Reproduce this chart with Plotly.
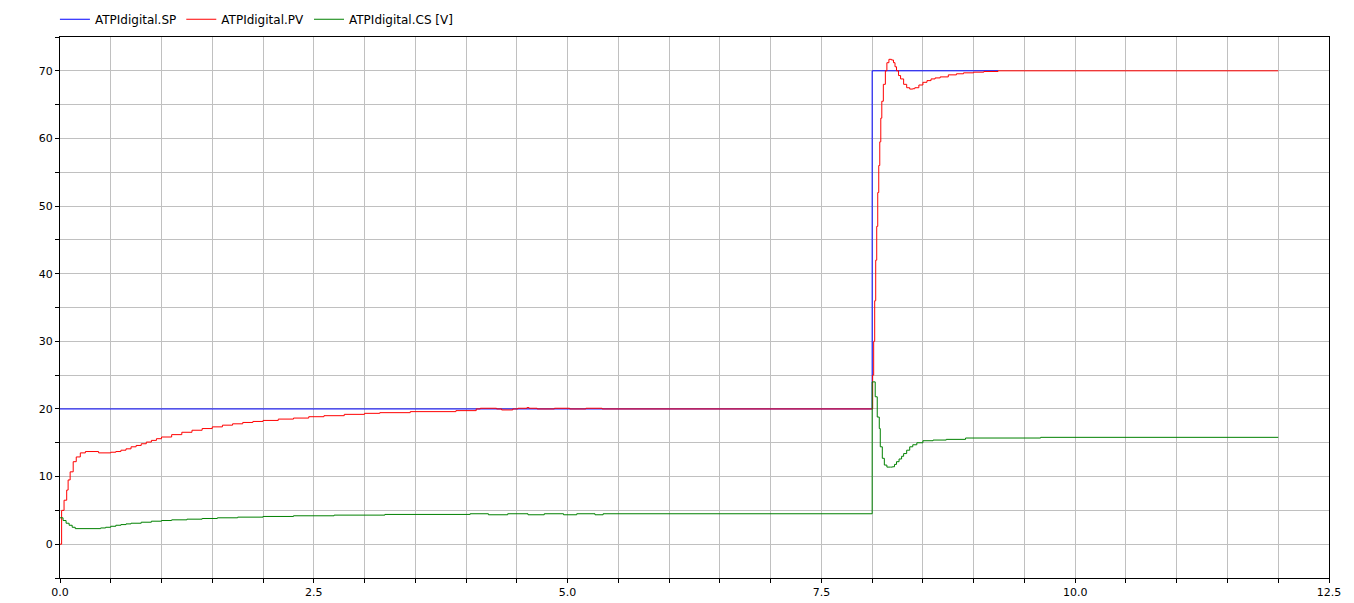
import plotly.graph_objects as go

# ---- data ----
sp_t = [0.0, 8.0, 8.0, 9.24]
sp_v = [20.0, 20.0, 70.0, 70.0]

pv_t = [0.0, 0.016, 0.04, 0.066, 0.08, 0.1, 0.13, 0.16, 0.2, 0.25, 0.38, 0.5, 0.55, 0.6,
        0.65, 0.7, 0.75, 0.8, 0.85, 0.9, 0.95, 1.0, 1.1, 1.2, 1.3, 1.4, 1.5, 1.6, 1.7, 1.8,
        1.9, 2.0, 2.15, 2.3, 2.45, 2.6, 2.8, 3.0, 3.15, 3.45, 3.9, 4.1, 4.14, 4.3, 4.35,
        4.46, 4.51, 4.6, 4.62, 4.7, 4.87, 5.02, 5.18, 5.34, 8.0, 8.005, 8.015, 8.025, 8.035,
        8.045, 8.055, 8.065, 8.075, 8.085, 8.095, 8.11, 8.13, 8.145, 8.165, 8.19, 8.21,
        8.225, 8.24, 8.26, 8.28, 8.31, 8.34, 8.37, 8.4, 8.42, 8.46, 8.5, 8.54, 8.58, 8.62,
        8.67, 8.75, 8.83, 8.9, 9.0, 9.1, 9.24, 12.0]
pv_v = [0.0, 5.0, 6.5, 8.0, 9.5, 10.7, 12.2, 12.9, 13.5, 13.7, 13.5, 13.6, 13.7, 13.9,
        14.1, 14.4, 14.6, 14.85, 15.1, 15.35, 15.6, 15.85, 16.2, 16.55, 16.85, 17.1, 17.35,
        17.6, 17.8, 18.0, 18.15, 18.3, 18.5, 18.65, 18.85, 19.0, 19.2, 19.35, 19.45, 19.6,
        19.75, 20.0, 20.1, 20.0, 19.85, 20.0, 20.1, 20.2, 20.1, 20.0, 20.1, 20.0, 20.1, 20.0,
        20.0, 25.0, 30.0, 36.0, 42.0, 47.0, 52.0, 56.0, 59.5, 63.0, 65.5, 68.0, 70.0, 71.2,
        71.7, 71.6, 71.2, 70.6, 70.0, 69.3, 68.8, 68.0, 67.5, 67.3, 67.35, 67.5, 67.9, 68.3,
        68.55, 68.8, 68.95, 69.1, 69.4, 69.56, 69.7, 69.8, 69.9, 70.0, 70.0]

cs_t = [0.0, 0.03, 0.06, 0.09, 0.12, 0.15, 0.4, 0.45, 0.5, 0.55, 0.6, 0.65, 0.7, 0.8, 0.9,
        1.0, 1.1, 1.25, 1.4, 1.55, 1.75, 2.0, 2.3, 2.7, 3.2, 4.04, 4.22, 4.41, 4.61, 4.77,
        4.96, 5.09, 5.27, 5.35, 8.0, 8.03, 8.05, 8.07, 8.08, 8.1, 8.12, 8.145, 8.18, 8.2,
        8.22, 8.24, 8.265, 8.29, 8.31, 8.34, 8.37, 8.4, 8.44, 8.5, 8.6, 8.73, 8.92, 9.66,
        12.0]
cs_v = [3.9, 3.5, 3.1, 2.8, 2.5, 2.3, 2.4, 2.5, 2.65, 2.8, 2.9, 3.0, 3.1, 3.25, 3.4,
        3.5, 3.6, 3.7, 3.8, 3.9, 4.0, 4.1, 4.2, 4.3, 4.4, 4.5, 4.35, 4.5, 4.35, 4.5,
        4.35, 4.5, 4.35, 4.5, 24.0, 21.8, 18.8, 17.1, 14.4, 12.7, 11.7, 11.4, 11.4, 11.45,
        11.8, 12.2, 12.6, 13.0, 13.4, 13.9, 14.4, 14.7, 15.0, 15.3, 15.4, 15.5, 15.7, 15.8,
        15.8]

names = ["ATPIdigital.SP", "ATPIdigital.PV", "ATPIdigital.CS [V]"]
colors = ["#0000ff", "#ff0000", "#008000"]

x_ticks = [0.0, 2.5, 5.0, 7.5, 10.0, 12.5]
y_ticks = [0, 10, 20, 30, 40, 50, 60, 70]

fig = go.Figure()
fig.add_trace(go.Scatter(x=sp_t, y=sp_v, mode="lines", name=names[0],
                         line=dict(color=colors[0], width=1)))
fig.add_trace(go.Scatter(x=pv_t, y=pv_v, mode="lines", name=names[1],
                         line=dict(color=colors[1], width=1, shape="hv")))
fig.add_trace(go.Scatter(x=cs_t, y=cs_v, mode="lines", name=names[2],
                         line=dict(color=colors[2], width=1, shape="hv")))

font = dict(family="DejaVu Sans", size=11, color="#000000")

# the page body has an 8px margin, so the figure is sized/offset to compensate
fig.update_layout(
    width=1346, height=595,
    margin=dict(l=52, r=25, t=29, b=25, autoexpand=False),
    paper_bgcolor="white", plot_bgcolor="white",
    font=font,
    showlegend=True,
    legend=dict(orientation="h", x=-0.004, xanchor="left", y=1.006, yanchor="bottom",
                font=dict(family="DejaVu Sans", size=12, color="#000000"),
                bgcolor="rgba(0,0,0,0)", borderwidth=0, itemwidth=30,
                traceorder="normal"),
)
fig.update_xaxes(
    range=[0, 12.5], tickvals=x_ticks, ticktext=[f"{v:.1f}" for v in x_ticks],
    showgrid=True, gridcolor="#c0c0c0", gridwidth=1,
    showline=True, linecolor="black", linewidth=1, mirror=True,
    ticks="outside", ticklen=4, tickcolor="black",
    minor=dict(dtick=0.5, tick0=0, showgrid=True, gridcolor="#c0c0c0", gridwidth=1,
               ticks="outside", ticklen=4, tickcolor="black"),
    zeroline=False, tickfont=font,
)
fig.update_yaxes(
    range=[-5, 75], tickvals=y_ticks, ticktext=[str(v) for v in y_ticks],
    showgrid=True, gridcolor="#c0c0c0", gridwidth=1,
    showline=True, linecolor="black", linewidth=1, mirror=True,
    ticks="outside", ticklen=4, tickcolor="black",
    minor=dict(dtick=5, tick0=0, showgrid=True, gridcolor="#c0c0c0", gridwidth=1,
               ticks="outside", ticklen=4, tickcolor="black"),
    zeroline=False, tickfont=font,
)

fig.write_html("out.html")
